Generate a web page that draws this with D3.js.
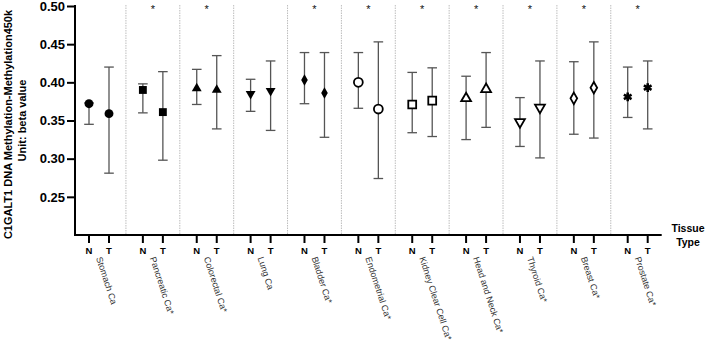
<!DOCTYPE html>
<html><head><meta charset="utf-8">
<script src="https://cdn.jsdelivr.net/npm/d3@7"></script>
<style>body{margin:0;background:#fff}svg{display:block;font-family:"Liberation Sans",Arial,sans-serif}</style>
</head><body><svg id="c" width="709" height="344"></svg>
<script>
const categories = ["Stomach Ca","Pancreatic Ca*","Colorectal Ca*","Lung Ca","Bladder Ca*","Endometrial Ca*","Kidney Clear Cell Ca*","Head and Neck Ca*","Thyroid Ca*","Breast Ca*","Prostate Ca*"];
const significant = [false,true,true,false,true,true,true,true,true,true,true];
const shapes = ["circle","square","triangle","triangleDown","diamond","circle","square","triangle","triangleDown","diamond","asterisk"];
const filled = [true,true,true,true,true,false,false,false,false,false,true];
const nMean = [0.372,0.390,0.392,0.385,0.403,0.400,0.371,0.379,0.348,0.379,0.381];
const nLow  = [0.345,0.360,0.371,0.362,0.372,0.366,0.334,0.325,0.316,0.332,0.354];
const nHigh = [0.373,0.398,0.417,0.404,0.439,0.439,0.413,0.408,0.380,0.427,0.420];
const tMean = [0.359,0.361,0.390,0.389,0.386,0.365,0.376,0.391,0.367,0.393,0.393];
const tLow  = [0.281,0.298,0.339,0.337,0.328,0.274,0.329,0.341,0.301,0.327,0.339];
const tHigh = [0.420,0.414,0.435,0.428,0.439,0.453,0.419,0.439,0.428,0.453,0.428];
const groups = ["N","T"];
const yTicks = [0.25,0.30,0.35,0.40,0.45,0.50];
const yTitle = ["C1GALT1 DNA Methylation-Methylation450k","Unit: beta value"];
const xTitle = ["Tissue","Type"];

const svg = d3.select("#c");
const L = 75, R = 661.7, T = 6, B = 235;
const y = d3.scaleLinear().domain([0.2,0.5]).range([B,T]);
const xg = d3.scalePoint().domain(categories).range([L,R]).padding(0.4455);
const xs = d3.scalePoint().domain(groups).range([-10,10]);

const pts = [];
categories.forEach((c,i)=>{
  pts.push({c,i,g:"N",m:nMean[i],lo:nLow[i],hi:nHigh[i]});
  pts.push({c,i,g:"T",m:tMean[i],lo:tLow[i],hi:tHigh[i]});
});
const px = d => xg(d.c) + xs(d.g);

// dividers
const step = xg.step();
svg.append("g").selectAll("line").data(categories.slice(1)).join("line")
  .attr("x1",d=>xg(d)-step/2).attr("x2",d=>xg(d)-step/2)
  .attr("y1",T-1).attr("y2",B)
  .attr("stroke","#bdbdbd").attr("stroke-width",1).attr("stroke-dasharray","1.5,1");

// error bars
const eb = svg.append("g").attr("stroke","#555").attr("stroke-width",1.3);
eb.selectAll(".v").data(pts).join("line")
  .attr("x1",px).attr("x2",px).attr("y1",d=>y(d.lo)).attr("y2",d=>y(d.hi));
eb.selectAll(".lo").data(pts).join("line")
  .attr("x1",d=>px(d)-4.8).attr("x2",d=>px(d)+4.8).attr("y1",d=>y(d.lo)).attr("y2",d=>y(d.lo));
eb.selectAll(".hi").data(pts).join("line")
  .attr("x1",d=>px(d)-4.8).attr("x2",d=>px(d)+4.8).attr("y1",d=>y(d.hi)).attr("y2",d=>y(d.hi));

// markers
const symType = {circle:d3.symbolCircle,square:d3.symbolSquare,triangle:d3.symbolTriangle,triangleDown:d3.symbolTriangle,diamond:d3.symbolDiamond,asterisk:d3.symbolAsterisk};
const symSize = {circle:62,square:62,triangle:42,triangleDown:42,diamond:38,asterisk:55};
svg.append("g").selectAll("path").data(pts).join("path")
  .attr("d",d=>d3.symbol(symType[shapes[d.i]], symSize[shapes[d.i]])())
  .attr("transform",d=>`translate(${px(d)},${y(d.m)})`+(shapes[d.i]==="triangleDown"?" rotate(180)":""))
  .attr("fill",d=>shapes[d.i]==="asterisk"?"none":(filled[d.i]?"#000":"#fff"))
  .attr("stroke",d=>(filled[d.i]&&shapes[d.i]!=="asterisk")?"none":"#000")
  .attr("stroke-width",d=>shapes[d.i]==="asterisk"?2.6:1.8);

// stars
svg.append("g").selectAll("text").data(categories.filter((c,i)=>significant[i])).join("text")
  .attr("x",d=>xg(d)).attr("y",T+7).attr("text-anchor","middle")
  .attr("font-size",11).attr("fill","#111").text("*");

// y axis
const ya = svg.append("g").attr("transform",`translate(${L},0)`)
  .call(d3.axisLeft(y).tickValues(yTicks).tickFormat(d3.format(".2f")).tickSize(8).tickSizeOuter(0));
ya.select(".domain").attr("stroke","#000").attr("stroke-width",2).attr("d",`M0,${T-1}V${B}`);
ya.selectAll(".tick line").attr("stroke","#000").attr("stroke-width",2);
ya.selectAll(".tick text").attr("font-size",13).attr("font-weight","bold").attr("fill","#000")
  .attr("font-family","Liberation Sans, Arial, sans-serif").attr("x",-10);

// x axis
svg.append("line").attr("x1",L-1).attr("x2",R).attr("y1",B).attr("y2",B).attr("stroke","#000").attr("stroke-width",2);
svg.append("g").selectAll("line").data(pts).join("line")
  .attr("x1",px).attr("x2",px).attr("y1",B).attr("y2",B+8).attr("stroke","#000").attr("stroke-width",2);
svg.append("g").selectAll("text").data(pts).join("text")
  .attr("x",px).attr("y",B+19).attr("text-anchor","middle").attr("font-size",9.5)
  .attr("font-weight","bold").attr("fill","#000").text(d=>d.g);

// category labels
svg.append("g").selectAll("text").data(categories).join("text")
  .attr("transform",d=>`translate(${xg(d)-3},${B+23}) rotate(72)`)
  .attr("font-size",9).attr("fill","#333").text(d=>d);

// y title
svg.append("g").selectAll("text").data(yTitle).join("text")
  .attr("transform",(d,i)=>`translate(${8.5+i*13.5},${(T+B)/2 + (i===0?4:0)}) rotate(-90)`)
  .attr("dy","0.35em").attr("text-anchor","middle").attr("font-size",11).attr("font-weight","bold")
  .attr("fill","#000").text(d=>d);

// x title
svg.append("g").selectAll("text").data(xTitle).join("text")
  .attr("x",688).attr("y",(d,i)=>B-3+i*13.5).attr("text-anchor","middle")
  .attr("font-size",10.5).attr("font-weight","bold").attr("fill","#000").text(d=>d);
</script></body></html>
